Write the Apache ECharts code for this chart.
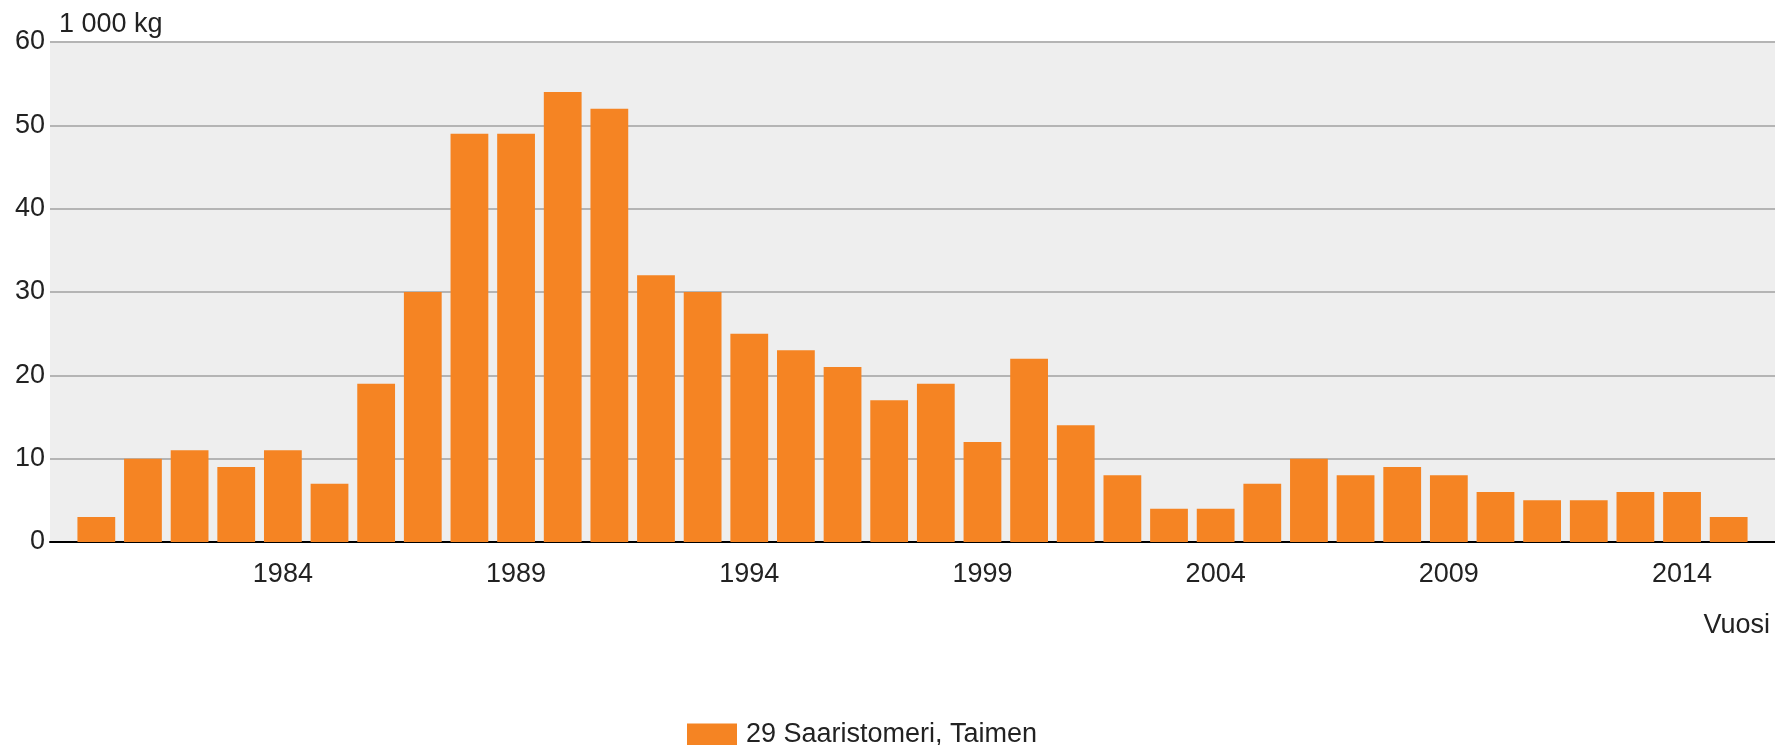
<!DOCTYPE html>
<html>
<head>
<meta charset="utf-8">
<script src="https://cdn.jsdelivr.net/npm/echarts@6/dist/echarts.min.js"></script>
<style>
  html, body { margin: 0; padding: 0; background: #fff; }
  #chart { width: 1775px; height: 745px; }
</style>
</head>
<body>
<div id="chart"></div>
<script>
// vuodet ja saalis (1 000 kg)
var years = ['1980','1981','1982','1983','1984','1985','1986','1987','1988','1989',
             '1990','1991','1992','1993','1994','1995','1996','1997','1998','1999',
             '2000','2001','2002','2003','2004','2005','2006','2007','2008','2009',
             '2010','2011','2012','2013','2014','2015'];
var catch29 = [3, 10, 11, 9, 11, 7, 19, 30, 49, 49,
               54, 52, 32, 30, 25, 23, 21, 17, 19, 12,
               22, 14, 8, 4, 4, 7, 10, 8, 9, 8,
               6, 5, 5, 6, 6, 3];
var shownYears = ['1984','1989','1994','1999','2004','2009','2014'];
var seriesName = '29 Saaristomeri, Taimen';

var font = '"Liberation Sans", Arial, sans-serif';
var fs = 27;
var chart = echarts.init(document.getElementById('chart'));

var option = {
    animation: false,
    textStyle: { fontFamily: font },
    title: [
        { text: '1 000 kg', left: 59, top: 11, padding: 0,
          textStyle: { fontSize: fs, fontWeight: 'normal', color: '#222', fontFamily: font } },
        { text: 'Vuosi', right: 5, top: 612, padding: 0,
          textStyle: { fontSize: fs, fontWeight: 'normal', color: '#222', fontFamily: font } }
    ],
    legend: {
        left: 687, top: 721, padding: 0,
        itemWidth: 50, itemHeight: 22,
        itemGap: 10,
        textStyle: { fontSize: fs, color: '#222', fontFamily: font, padding: [0, 0, 0, 4] },
        data: [{ name: seriesName, icon: 'rect' }]
    },
    grid: [
        // taustaruudukko
        { left: 50, right: 0, top: 42, bottom: 203, show: true,
          backgroundColor: '#eeeeee', borderWidth: 0 },
        // pylväät
        { left: 73, right: 23, top: 42, bottom: 203 }
    ],
    xAxis: [
        { gridIndex: 0, type: 'value', min: 0, max: 1,
          axisLine: { show: true, lineStyle: { color: '#000', width: 2 } },
          axisTick: { show: false }, axisLabel: { show: false }, splitLine: { show: false } },
        { gridIndex: 1, type: 'category', data: years,
          axisLine: { show: false }, axisTick: { show: false },
          axisLabel: {
              fontSize: fs, color: '#222', margin: 19,
              interval: function (i, v) { return shownYears.indexOf(v) >= 0; }
          } }
    ],
    yAxis: [
        { gridIndex: 0, type: 'value', min: 0, max: 60, interval: 10,
          axisLine: { show: false }, axisTick: { show: false },
          axisLabel: { fontSize: fs, color: '#222', margin: 5 },
          splitLine: { lineStyle: { color: '#b4b4b4', width: 2 } } },
        { gridIndex: 1, type: 'value', min: 0, max: 60, show: false }
    ],
    series: [
        {
            name: seriesName,
            type: 'bar',
            xAxisIndex: 1, yAxisIndex: 1,
            barCategoryGap: '19%',
            itemStyle: { color: '#f58423' },
            data: catch29
        }
    ]
};
chart.setOption(option);
</script>
</body>
</html>
